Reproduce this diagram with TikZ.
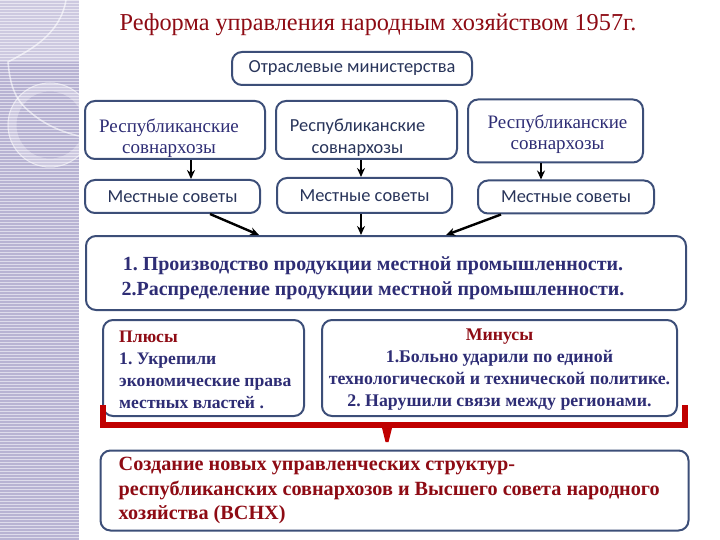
\documentclass[tikz,border=0pt]{standalone}
\usepackage{fontspec}
\setmainfont{Liberation Serif}
\newfontfamily\sansf{Carlito}
\usetikzlibrary{arrows.meta}
\definecolor{navy}{HTML}{2E2D75}
\definecolor{sanscol}{HTML}{28345A}
\definecolor{maroon}{HTML}{8E0B14}
\definecolor{edge}{HTML}{3C4E78}
\definecolor{brk}{HTML}{C00000}
\definecolor{lav}{HTML}{B8B3D3}
\frenchspacing
\begin{document}
\begin{tikzpicture}[x=1pt,y=-1pt,
  box/.style={draw=edge, line width=2pt, rounded corners=10pt, fill=white, inner sep=0pt, align=center},
  sansbox/.style={box, text=sanscol, font=\sansf\fontsize{18.4}{21}\selectfont},
  seriftxt/.style={inner sep=0pt, align=center, text=navy, font=\fontsize{19}{21.5}\selectfont},
  sanstxt/.style={inner sep=0pt, align=center, text=sanscol, font=\sansf\fontsize{18.4}{22}\selectfont},
  arr/.style={-{Stealth[length=9pt,width=8pt]}, line width=2.4pt, black},
  brace/.style={brk, line width=5.5pt}]
\useasboundingbox (0,0) rectangle (720,540);
% left decorative strip
\begin{scope}
\clip (0,0) rectangle (79,540);
\fill[lav] (0,0) rectangle (79,540);
\fill[white, opacity=0.3] (0,0) rectangle (79,62);
\draw[white, opacity=0.3, line width=9pt] (50,125) circle (38);
\draw[white, opacity=0.5, line width=1pt] (50,125) circle (42);
\draw[white, opacity=0.6, line width=1.5pt] (66,0) .. controls (60,35) and (30,50) .. (8,62) .. controls (10,85) and (15,100) .. (30,112) .. controls (45,125) and (62,132) .. (79,136);
\foreach \y in {0,3,...,540} \draw[white, opacity=0.55, line width=0.7pt] (0,\y) -- (79,\y);
\end{scope}
% title
\node[text=maroon, font=\fontsize{24.3}{28}\selectfont] (title) at (378,25) {Реформа управления народным хозяйством 1957г.};
% boxes
\node[sansbox, minimum width=240pt, minimum height=33pt] (ot) at (352,68.5) {Отраслевые министерства};
\node[box, minimum width=180pt, minimum height=58pt] (rA) at (175,130) {};
\node[box, minimum width=181pt, minimum height=58pt] (rB) at (366.5,130) {};
\node[box, minimum width=175pt, minimum height=63pt] (rC) at (555.5,131) {};
\node[seriftxt] (rAt) at (rA.center) [xshift=-6pt, yshift=-8pt] {Республиканские\\совнархозы};
\node[sanstxt] (rBt) at (rB.center) [xshift=-9pt, yshift=-8pt] {Республиканские\\совнархозы};
\node[seriftxt] (rCt) at (rC.center) [xshift=2pt, yshift=-3pt] {Республиканские\\совнархозы};
\node[sansbox, minimum width=175pt, minimum height=33pt] (mA) at (172.5,196.5) {Местные советы};
\node[sansbox, minimum width=175pt, minimum height=35pt] (mB) at (364.5,195.5) {Местные советы};
\node[sansbox, minimum width=176pt, minimum height=33pt] (mC) at (566,197) {Местные советы};
\node[box, minimum width=600pt, minimum height=74pt] (big) at (386,273) {};
\node[inner sep=0pt, align=center, text=navy, font=\bfseries\fontsize{20}{25}\selectfont] (bigt) at (big.center) [xshift=-13pt, yshift=-5pt]
  {1. Производство продукции местной промышленности.\\2.Распределение продукции местной промышленности.};
\node[box, minimum width=201pt, minimum height=96pt] (plus) at (203.5,368) {};
\node[anchor=west, inner sep=0pt, align=left, text=navy, font=\bfseries\fontsize{17.6}{22}\selectfont] (plust) at (plus.west) [xshift=17pt, yshift=-2pt]
  {\textcolor{maroon}{Плюсы}\\1. Укрепили\\экономические права\\местных властей .};
\node[box, minimum width=355pt, minimum height=96pt] (minus) at (499.5,368) {};
\node[inner sep=0pt, align=center, text=navy, font=\bfseries\fontsize{17.8}{22}\selectfont] (minust) at (minus.center) [yshift=-2pt]
  {\textcolor{maroon}{Минусы}\\1.Больно ударили по единой\\технологической и технической политике.\\2. Нарушили связи между регионами.};
\node[box, minimum width=588pt, minimum height=80pt] (bot) at (394.5,490.5) {};
\node[anchor=west, inner sep=0pt, align=left, text=maroon, font=\bfseries\fontsize{20.2}{24.5}\selectfont] (bott) at (bot.west) [xshift=19pt]
  {Создание новых управленческих структур-\\республиканских совнархозов и Высшего совета народного\\хозяйства (ВСНХ)};
% arrows
\draw[arr] (rA.south -| 191,0) -- (mA.north -| 191,0);
\draw[arr] (rB.south -| 361,0) -- (mB.north -| 361,0);
\draw[arr] (rC.south -| 541,0) -- (mC.north -| 541,0);
\draw[arr] (mA.south -| 210,0) -- (big.north -| 259,0);
\draw[arr] (mB.south -| 361,0) -- (big.north -| 361,0);
\draw[arr] (mC.south -| 501,0) -- (big.north -| 446,0);
% bracket
\coordinate (bl) at (103,405);
\coordinate (br) at (685,405);
\draw[brace] (bl) -- (103,425) -- (685,425) -- (br);
\fill[brk] (381,424) -- (393,424) -- (388.5,442) -- (385.5,442) -- cycle;
\end{tikzpicture}
\end{document}
